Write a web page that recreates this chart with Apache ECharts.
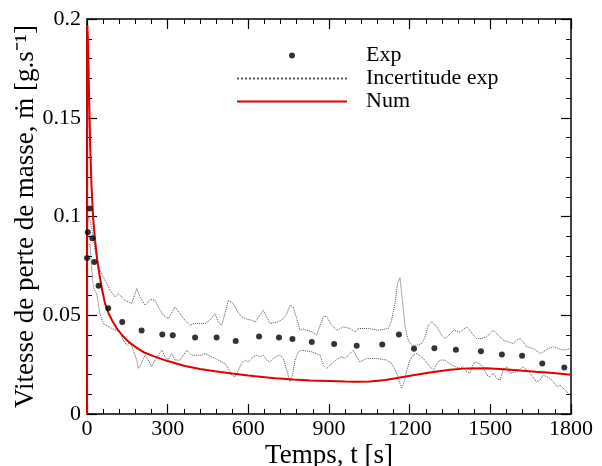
<!DOCTYPE html>
<html><head><meta charset="utf-8">
<script src="https://cdn.jsdelivr.net/npm/echarts@6/dist/echarts.min.js"></script>
<style>html,body{margin:0;padding:0;background:#fff}#c{width:602px;height:466px}</style>
</head><body><div id="c"></div>
<script>
// Experimental points [t (s), mdot (g/s)]
const expData = [[0,0.079],[3,0.092],[10,0.104],[20,0.089],[27,0.077],[43,0.065],[79,0.0535],[131,0.0466],[203,0.0423],[280,0.0402],[319,0.0399],[402,0.0387],[482,0.0387],[553,0.0369],[640,0.0392],[714,0.0387],[764,0.0380],[836,0.0364],[919,0.0355],[1003,0.0345],[1098,0.0352],[1160,0.0402],[1216,0.0330],[1292,0.0333],[1372,0.0325],[1465,0.0318],[1543,0.0301],[1618,0.0295],[1693,0.0256],[1775,0.0236]];

// Upper uncertainty bound
const upperData = [[0,0.090],[5,0.100],[12,0.098],[20,0.092],[30,0.083],[48,0.0727],[67,0.0677],[86,0.0626],[104,0.0593],[117,0.0609],[141,0.0576],[166,0.0559],[185,0.0635],[197,0.0593],[216,0.0551],[235,0.058],[253,0.0576],[270,0.053],[284,0.0500],[303,0.0483],[327,0.0542],[345,0.051],[364,0.0475],[383,0.0449],[400,0.046],[420,0.0458],[439,0.0458],[457,0.0475],[476,0.0508],[488,0.0466],[501,0.0449],[513,0.0508],[526,0.0576],[532,0.0584],[544,0.0559],[557,0.0525],[575,0.0492],[595,0.048],[612,0.0475],[625,0.0466],[643,0.0500],[656,0.0525],[668,0.0492],[681,0.0458],[695,0.0462],[711,0.0466],[730,0.0483],[743,0.0508],[755,0.0551],[767,0.0542],[780,0.0483],[792,0.0424],[805,0.043],[817,0.0424],[836,0.0416],[854,0.0399],[867,0.0449],[879,0.0492],[891,0.0495],[897,0.0492],[910,0.0449],[929,0.0424],[953,0.0441],[978,0.0433],[997,0.0416],[1009,0.0433],[1046,0.0433],[1083,0.0424],[1121,0.0433],[1133,0.0475],[1145,0.0559],[1155,0.0660],[1164,0.0690],[1173,0.0576],[1183,0.0441],[1195,0.0374],[1207,0.0348],[1226,0.0348],[1245,0.0357],[1257,0.0390],[1269,0.0449],[1282,0.0466],[1301,0.0441],[1319,0.0399],[1331,0.0382],[1350,0.0404],[1362,0.0424],[1387,0.0416],[1412,0.0441],[1424,0.0424],[1437,0.0399],[1449,0.0382],[1468,0.0382],[1486,0.0390],[1511,0.0424],[1536,0.0390],[1548,0.0374],[1567,0.0365],[1585,0.0357],[1598,0.0374],[1610,0.0382],[1623,0.0365],[1635,0.0340],[1660,0.0332],[1685,0.0306],[1697,0.0315],[1716,0.0332],[1734,0.0340],[1753,0.0332],[1771,0.0323],[1800,0.0332]];

// Lower uncertainty bound
const lowerData = [[0,0.085],[11,0.086],[17,0.074],[24,0.064],[36,0.0609],[48,0.0508],[61,0.0458],[92,0.0433],[123,0.0416],[135,0.0374],[148,0.0348],[160,0.0365],[172,0.0323],[185,0.0273],[191,0.0231],[203,0.0256],[216,0.0298],[228,0.0273],[240,0.0239],[253,0.0273],[278,0.0323],[290,0.0290],[302,0.0273],[315,0.0306],[327,0.0273],[346,0.0273],[371,0.0323],[389,0.0298],[427,0.0298],[439,0.0306],[464,0.0290],[476,0.0281],[513,0.0256],[526,0.0231],[538,0.0197],[550,0.0188],[563,0.0222],[575,0.0256],[588,0.0273],[600,0.0264],[619,0.0290],[631,0.0298],[643,0.0290],[656,0.0298],[668,0.0273],[681,0.0264],[699,0.0290],[718,0.0298],[730,0.0281],[743,0.0222],[755,0.0163],[764,0.0197],[774,0.0273],[786,0.0315],[798,0.0323],[836,0.0315],[867,0.0298],[879,0.0247],[891,0.0231],[904,0.0247],[916,0.0264],[935,0.0281],[947,0.0290],[960,0.0281],[978,0.0306],[990,0.0323],[1003,0.0290],[1015,0.0264],[1040,0.0281],[1077,0.0281],[1115,0.0273],[1133,0.0256],[1152,0.0206],[1164,0.0155],[1170,0.0130],[1180,0.0163],[1189,0.0222],[1201,0.0273],[1213,0.0298],[1226,0.0306],[1251,0.0281],[1276,0.0239],[1288,0.0222],[1301,0.0256],[1313,0.0273],[1331,0.0273],[1356,0.0247],[1387,0.0231],[1400,0.0239],[1412,0.0214],[1424,0.0206],[1437,0.0256],[1449,0.0264],[1474,0.0239],[1486,0.0197],[1499,0.0188],[1511,0.0206],[1524,0.0180],[1536,0.0172],[1548,0.0222],[1561,0.0239],[1573,0.0206],[1598,0.0214],[1623,0.0239],[1648,0.0206],[1672,0.0163],[1685,0.0172],[1697,0.0197],[1722,0.0180],[1734,0.0163],[1747,0.0138],[1759,0.0147],[1778,0.0120],[1790,0.0105],[1800,0.0095]];

// Numerical result
const numData = [[0,0],[1,0.197],[4,0.188],[8,0.16],[12,0.135],[17,0.115],[23,0.099],[30,0.088],[38,0.078],[47,0.070],[56,0.063],[67,0.056],[80,0.051],[95,0.047],[110,0.0435],[130,0.040],[155,0.0365],[185,0.0335],[215,0.031],[250,0.0292],[300,0.0268],[364,0.0243],[420,0.0228],[476,0.0216],[540,0.0205],[600,0.0195],[643,0.0189],[700,0.0181],[767,0.0175],[830,0.0170],[900,0.0167],[960,0.0164],[1000,0.0163],[1052,0.0164],[1110,0.0172],[1164,0.0185],[1230,0.0200],[1288,0.0213],[1350,0.0224],[1412,0.0231],[1486,0.0232],[1550,0.0227],[1610,0.0220],[1670,0.0214],[1734,0.0208],[1800,0.0199]];

const xTitle = 'Temps, t [s]';
const yTitle = 'Vitesse de perte de masse, ṁ [g.s⁻¹]';
const seriesNames = ['Exp', 'Incertitude exp', 'Num'];

const FONT = 'Liberation Serif';
const axisCommon = {
  axisLine: {show: true, onZero: false, lineStyle: {color: '#000', width: 1.5}},
  axisTick: {show: true, inside: true, length: 10, lineStyle: {color: '#000', width: 1.2}},
  minorTick: {show: true, splitNumber: 5, length: 5, lineStyle: {color: '#000', width: 1}},
  splitLine: {show: false},
  minorSplitLine: {show: false}
};

const chart = echarts.init(document.getElementById('c'), null, {renderer: 'canvas'});
chart.setOption({
  animation: false,
  backgroundColor: '#fff',
  grid: {left: 87, right: 31, top: 19, bottom: 52, containLabel: false, outerBoundsMode: 'none'},
  xAxis: [
    Object.assign({type: 'value', min: 0, max: 1800, interval: 300, position: 'bottom',
      name: xTitle, nameLocation: 'middle', nameGap: 28, nameMoveOverlap: false,
      nameTextStyle: {fontFamily: FONT, fontSize: 27, color: '#000'},
      axisLabel: {fontFamily: FONT, fontSize: 22, color: '#000', margin: 4, formatter: v => String(v)}}, axisCommon),
    Object.assign({type: 'value', min: 0, max: 1800, interval: 300, position: 'top',
      axisLabel: {show: false}}, axisCommon)
  ],
  yAxis: [
    Object.assign({type: 'value', min: 0, max: 0.2, interval: 0.05, position: 'left',
      name: yTitle, nameLocation: 'middle', nameGap: 48, nameMoveOverlap: false,
      nameTextStyle: {fontFamily: FONT, fontSize: 27, color: '#000'},
      axisLabel: {fontFamily: FONT, fontSize: 22, color: '#000', margin: 6}}, axisCommon),
    Object.assign({type: 'value', min: 0, max: 0.2, interval: 0.05, position: 'right',
      axisLabel: {show: false}}, axisCommon)
  ],
  legend: {
    show: true, orient: 'vertical', left: 236, top: 44, padding: 0,
    itemWidth: 110, itemHeight: 6, itemGap: 0, selectedMode: false,
    textStyle: {fontFamily: FONT, fontSize: 22, color: '#000', lineHeight: 23, padding: [0, 0, 0, 14]},
    data: [
      {name: seriesNames[0], icon: 'circle', itemStyle: {color: '#000'}},
      {name: seriesNames[1], itemStyle: {opacity: 0}},
      {name: seriesNames[2], itemStyle: {opacity: 0}}
    ]
  },
  series: [
    {name: seriesNames[1], type: 'line', data: upperData, symbol: 'none', z: 2,
      itemStyle: {color: '#555'}, lineStyle: {color: '#555', width: 1, type: 'dotted'}},
    {name: seriesNames[1], type: 'line', data: lowerData, symbol: 'none', z: 2,
      itemStyle: {color: '#555'}, lineStyle: {color: '#555', width: 1, type: 'dotted'}},
    {name: seriesNames[2], type: 'line', data: numData, symbol: 'none', z: 3,
      itemStyle: {color: '#e00000'}, lineStyle: {color: '#e00000', width: 2}},
    {name: seriesNames[0], type: 'scatter', data: expData, symbol: 'circle', symbolSize: 6, z: 4,
      itemStyle: {color: '#000'}}
  ]
});
</script></body></html>
